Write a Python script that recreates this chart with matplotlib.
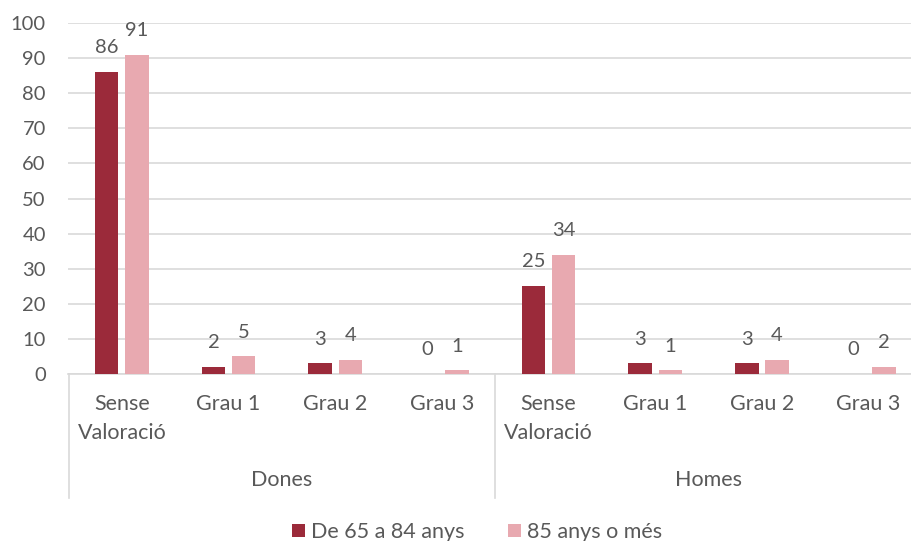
import matplotlib
matplotlib.use("Agg")
import matplotlib.pyplot as plt
import numpy as np

plt.rcParams['font.family'] = ['Lato', 'DejaVu Sans']

groups = ["Dones", "Homes"]
categories = ["Sense\nValoració", "Grau 1", "Grau 2", "Grau 3"]
series_names = ["De 65 a 84 anys", "85 anys o més"]
dones_65_84 = [86, 2, 3, 0]
dones_85 = [91, 5, 4, 1]
homes_65_84 = [25, 3, 3, 0]
homes_85 = [34, 1, 4, 2]
yticks = [0, 10, 20, 30, 40, 50, 60, 70, 80, 90, 100]

s1 = dones_65_84 + homes_65_84
s2 = dones_85 + homes_85
labels = categories * 2

c1 = "#9B2A3A"
c2 = "#E8A9B0"
tc = "#595959"
gc = "#D9D9D9"
FS = 14.5
FT = 15.5

W, H = 911, 541
fig = plt.figure(figsize=(W / 100, H / 100), dpi=100)
ax_left, ax_right, ax_top, ax_bot = 68, 922, 23, 374
ax = fig.add_axes([ax_left / W, 1 - ax_bot / H, (ax_right - ax_left) / W, (ax_bot - ax_top) / H])

x = np.arange(len(s1))
w = 0.22
off = 0.142
b1 = ax.bar(x - off, s1, w, color=c1, zorder=3, label=series_names[0])
b2 = ax.bar(x + off, s2, w, color=c2, zorder=3, label=series_names[1])

for bars, vals in ((b1, s1), (b2, s2)):
    for r, v in zip(bars, vals):
        ax.annotate(str(v), (r.get_x() + r.get_width() / 2, v), xytext=(0, 17.5),
                    textcoords='offset points', ha='center', va='center',
                    fontsize=FS, color=tc)

ax.set_xlim(-0.505, 7.5)
ax.set_ylim(0, 100)
ax.set_yticks(yticks)
ax.tick_params(axis='y', length=0, labelsize=FS, labelcolor=tc, pad=16)
ax.set_xticks([])
ax.yaxis.grid(True, color=gc, linewidth=1.2, zorder=0)
for s in ('left', 'right', 'top'):
    ax.spines[s].set_visible(False)
ax.spines['bottom'].set_color(gc)
ax.spines['bottom'].set_linewidth(1.2)

hpx = ax_bot - ax_top
def yfrac(ypx):
    return -(ypx - ax_bot) / hpx

trans = ax.get_xaxis_transform()
for i, lab in enumerate(labels):
    for k, line in enumerate(lab.split("\n")):
        ax.text(x[i], yfrac(404 + 29 * k), line, transform=trans, ha='center', va='center',
                fontsize=FT, color=tc)
for g, name in enumerate(groups):
    ax.text(g * 4 + 1.5, yfrac(480), name, transform=trans, ha='center', va='center',
            fontsize=FT, color=tc)
for xs in (-0.5, 3.5, 7.5):
    ax.plot([xs, xs], [0, yfrac(498)], transform=trans, color=gc, linewidth=1.2,
            clip_on=False)

fig.legend(handles=[b1, b2], loc='center', bbox_to_anchor=(477 / W, 1 - 532 / H), ncol=2,
           frameon=False, fontsize=FT, labelcolor=tc, handlelength=0.6,
           handleheight=0.6, handletextpad=0.3, columnspacing=2.0)

fig.savefig("out.png", dpi=100)
